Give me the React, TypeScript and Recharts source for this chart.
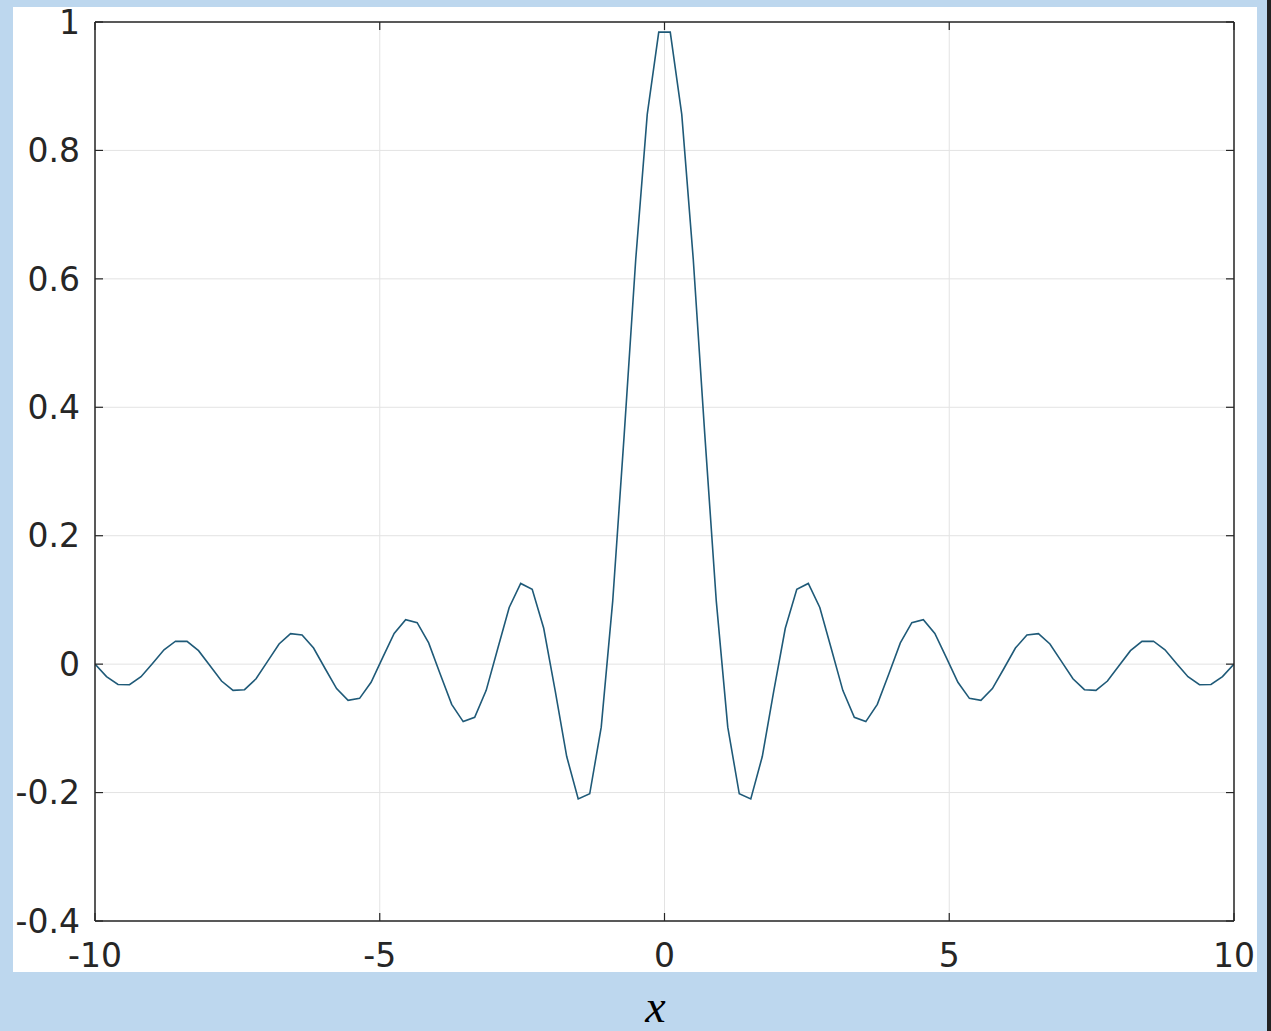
import { CartesianGrid, Line, LineChart, XAxis, YAxis } from 'recharts';

// sampled x positions (100 points, -10 .. 10)
const xValues = [
  -10, -9.798, -9.596, -9.394, -9.192, -8.99, -8.788, -8.586, -8.384, -8.182,
  -7.98, -7.778, -7.576, -7.374, -7.172, -6.97, -6.768, -6.566, -6.364, -6.162,
  -5.96, -5.758, -5.556, -5.354, -5.152, -4.949, -4.747, -4.545, -4.343, -4.141,
  -3.939, -3.737, -3.535, -3.333, -3.131, -2.929, -2.727, -2.525, -2.323, -2.121,
  -1.919, -1.717, -1.515, -1.313, -1.111, -0.909, -0.707, -0.505, -0.303, -0.101,
  0.101, 0.303, 0.505, 0.707, 0.909, 1.111, 1.313, 1.515, 1.717, 1.919,
  2.121, 2.323, 2.525, 2.727, 2.929, 3.131, 3.333, 3.535, 3.737, 3.939,
  4.141, 4.343, 4.545, 4.747, 4.949, 5.152, 5.354, 5.556, 5.758, 5.96,
  6.162, 6.364, 6.566, 6.768, 6.97, 7.172, 7.374, 7.576, 7.778, 7.98,
  8.182, 8.384, 8.586, 8.788, 8.99, 9.192, 9.394, 9.596, 9.798, 10,
];

const yValues = [
  0, -0.0193, -0.0317, -0.032, -0.0196, 0.0011, 0.0224, 0.0357, 0.0355, 0.021,
  -0.0025, -0.0263, -0.0408, -0.0398, -0.0228, 0.0043, 0.0314, 0.0474, 0.0455, 0.0251,
  -0.0068, -0.0381, -0.0564, -0.0533, -0.0283, 0.0102, 0.0478, 0.0693, 0.0646, 0.0331,
  -0.0153, -0.0626, -0.0895, -0.0827, -0.0408, 0.0239, 0.0882, 0.1257, 0.1164, 0.0558,
  -0.0416, -0.1439, -0.2099, -0.2019, -0.0981, 0.0986, 0.3582, 0.6305, 0.8561, 0.9843,
  0.9843, 0.8561, 0.6305, 0.3582, 0.0986, -0.0981, -0.2019, -0.2099, -0.1439, -0.0416,
  0.0558, 0.1164, 0.1257, 0.0882, 0.0239, -0.0408, -0.0827, -0.0895, -0.0626, -0.0153,
  0.0331, 0.0646, 0.0693, 0.0478, 0.0102, -0.0283, -0.0533, -0.0564, -0.0381, -0.0068,
  0.0251, 0.0455, 0.0474, 0.0314, 0.0043, -0.0228, -0.0398, -0.0408, -0.0263, -0.0025,
  0.021, 0.0355, 0.0357, 0.0224, 0.0011, -0.0196, -0.032, -0.0317, -0.0193, 0,
];

const xTicks = [-10, -5, 0, 5, 10];
const yTicks = [-0.4, -0.2, 0, 0.2, 0.4, 0.6, 0.8, 1];

const data = xValues.map((x, i) => ({ x, y: yValues[i] }));

const AXIS = '#262626';
const TICK_LEN = 8;
const X_MARGIN = 23;
const Y_MARGIN = 15;
const textStyle = { fontFamily: 'DejaVu Sans', fontSize: 33, fill: AXIS };

// ticks drawn inward, like octave's box axes
const BottomTick = (p: any) => (
  <g>
    <line x1={p.x} x2={p.x} y1={p.y - X_MARGIN} y2={p.y - X_MARGIN - TICK_LEN} stroke={AXIS} strokeWidth={1.2} />
    <text x={p.x} y={p.y} dy="0.71em" textAnchor="middle" style={textStyle}>
      {String(p.payload.value)}
    </text>
  </g>
);

const LeftTick = (p: any) => (
  <g>
    <line x1={p.x + Y_MARGIN} x2={p.x + Y_MARGIN + TICK_LEN} y1={p.y} y2={p.y} stroke={AXIS} strokeWidth={1.2} />
    <text x={p.x} y={p.y} dy="0.355em" textAnchor="end" style={textStyle}>
      {String(p.payload.value)}
    </text>
  </g>
);

const TopTick = (p: any) => (
  <line x1={p.x} x2={p.x} y1={p.y} y2={p.y + TICK_LEN} stroke={AXIS} strokeWidth={1.2} />
);

const RightTick = (p: any) => (
  <line x1={p.x} x2={p.x - TICK_LEN} y1={p.y} y2={p.y} stroke={AXIS} strokeWidth={1.2} />
);

export default function App() {
  return (
    <div
      style={{
        position: 'relative',
        width: 1271,
        height: 1031,
        background: '#bdd7ee',
        overflow: 'hidden',
      }}
    >
      <style>{'body{margin:0}'}</style>
      <div
        style={{
          position: 'absolute',
          left: 13,
          top: 7,
          width: 1244,
          height: 965,
          background: '#ffffff',
        }}
      />
      <div
        style={{
          position: 'absolute',
          right: 0,
          top: 0,
          width: 4,
          height: 1031,
          background: '#222',
        }}
      />
      <div style={{ position: 'absolute', left: 0, top: 0 }}>
        <LineChart
          width={1271}
          height={1031}
          data={data}
          margin={{ top: 21, right: 36, bottom: 50, left: 15 }}
        >
          <CartesianGrid xAxisId="b" yAxisId="l" stroke="#e3e3e3" strokeWidth={1} />
          <XAxis
            xAxisId="b"
            type="number"
            dataKey="x"
            domain={[-10, 10]}
            ticks={xTicks}
            height={60}
            stroke={AXIS}
            strokeWidth={1.5}
            tickLine={false}
            tickSize={0}
            tickMargin={X_MARGIN}
            tick={BottomTick}
            allowDataOverflow
          />
          <XAxis
            xAxisId="t"
            orientation="top"
            type="number"
            dataKey="x"
            domain={[-10, 10]}
            ticks={xTicks}
            height={1}
            stroke={AXIS}
            strokeWidth={1.5}
            tickLine={false}
            tickSize={0}
            tickMargin={0}
            tick={TopTick}
            allowDataOverflow
          />
          <YAxis
            yAxisId="l"
            type="number"
            domain={[-0.4, 1]}
            ticks={yTicks}
            width={80}
            stroke={AXIS}
            strokeWidth={1.5}
            tickLine={false}
            tickSize={0}
            tickMargin={Y_MARGIN}
            tick={LeftTick}
            allowDataOverflow
          />
          <YAxis
            yAxisId="r"
            orientation="right"
            type="number"
            domain={[-0.4, 1]}
            ticks={yTicks}
            width={1}
            stroke={AXIS}
            strokeWidth={1.5}
            tickLine={false}
            tickSize={0}
            tickMargin={0}
            tick={RightTick}
            allowDataOverflow
          />
          <Line
            xAxisId="b"
            yAxisId="l"
            type="linear"
            dataKey="y"
            stroke="#1f5a78"
            strokeWidth={1.6}
            dot={false}
            isAnimationActive={false}
          />
        </LineChart>
      </div>
      <div
        style={{
          position: 'absolute',
          left: 0,
          width: 1311,
          top: 984,
          textAlign: 'center',
          fontFamily: 'Liberation Serif',
          fontStyle: 'italic',
          fontSize: 46,
          color: '#000',
          lineHeight: '46px',
        }}
      >
        x
      </div>
    </div>
  );
}
